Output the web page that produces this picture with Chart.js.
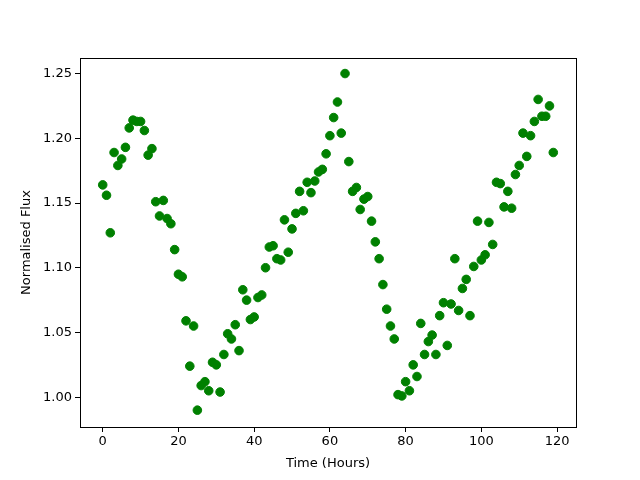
<!DOCTYPE html>
<html>
<head>
<meta charset="utf-8">
<script src="https://cdn.jsdelivr.net/npm/chart.js@4.4.0/dist/chart.umd.min.js"></script>
<style>
  html, body { margin: 0; padding: 0; background: #fff; }
</style>
</head>
<body>
<canvas id="myChart" width="640" height="480"></canvas>
<script>
// hours since start, one reading per hour
const hours = [];
for (let h = 0; h < 120; h++) hours.push(h);

const flux = [
  1.164, 1.156, 1.127, 1.189, 1.179, 1.184, 1.193, 1.208, 1.214, 1.213,
  1.213, 1.206, 1.187, 1.192, 1.151, 1.140, 1.152, 1.138, 1.134, 1.114,
  1.095, 1.093, 1.059, 1.024, 1.055, 0.990, 1.009, 1.012, 1.005, 1.027,
  1.025, 1.004, 1.033, 1.049, 1.045, 1.056, 1.036, 1.083, 1.075, 1.060,
  1.062, 1.077, 1.079, 1.100, 1.116, 1.117, 1.107, 1.106, 1.137, 1.112,
  1.130, 1.142, 1.159, 1.144, 1.166, 1.158, 1.167, 1.174, 1.176, 1.188,
  1.202, 1.216, 1.228, 1.204, 1.250, 1.182, 1.159, 1.162, 1.145, 1.153,
  1.155, 1.136, 1.120, 1.107, 1.087, 1.068, 1.055, 1.045, 1.002, 1.001,
  1.012, 1.005, 1.025, 1.016, 1.057, 1.033, 1.043, 1.048, 1.033, 1.063,
  1.073, 1.040, 1.072, 1.107, 1.067, 1.084, 1.091, 1.063, 1.101, 1.136,
  1.106, 1.110, 1.135, 1.118, 1.166, 1.165, 1.147, 1.159, 1.146, 1.172,
  1.179, 1.204, 1.186, 1.202, 1.213, 1.230, 1.217, 1.217, 1.225, 1.189
];

const xTicks = [0, 20, 40, 60, 80, 100, 120];
const yTicks = [1.00, 1.05, 1.10, 1.15, 1.20, 1.25];

const points = hours.map((h, i) => ({ x: h, y: flux[i] }));

// draw the full black frame round the plot area
const frame = {
  id: 'frame',
  afterDraw(chart) {
    const a = chart.chartArea;
    const ctx = chart.ctx;
    ctx.save();
    ctx.strokeStyle = '#000';
    ctx.lineWidth = 1;
    ctx.strokeRect(Math.round(a.left) + 0.5, Math.round(a.top) + 0.5,
      Math.round(a.right - a.left), Math.round(a.bottom - a.top));
    ctx.restore();
  }
};

const font = { family: 'DejaVu Sans', size: 13 };

new Chart(document.getElementById('myChart').getContext('2d'), {
  type: 'scatter',
  data: {
    datasets: [{
      data: points,
      backgroundColor: '#008000',
      borderColor: '#008000',
      pointRadius: 4.3,
      pointHoverRadius: 4.3
    }]
  },
  options: {
    responsive: false,
    animation: false,
    layout: { padding: { top: 58, right: 64, left: 0, bottom: 0 } },
    plugins: {
      legend: { display: false },
      tooltip: { enabled: false }
    },
    scales: {
      x: {
        type: 'linear',
        min: -6,
        max: 125,
        afterBuildTicks: (s) => { s.ticks = xTicks.map(v => ({ value: v })); },
        afterFit: (s) => { s.height = 53; },
        grid: { drawOnChartArea: false, tickLength: 5, tickColor: '#000' },
        border: { color: '#000' },
        ticks: { color: '#000', font: font, padding: 2, maxRotation: 0 },
        title: { display: true, text: 'Time (Hours)', color: '#000', font: font, padding: { top: 2, bottom: 9 } }
      },
      y: {
        type: 'linear',
        min: 0.977,
        max: 1.262,
        afterBuildTicks: (s) => { s.ticks = yTicks.map(v => ({ value: v })); },
        afterFit: (s) => { s.width = 80; },
        grid: { drawOnChartArea: false, tickLength: 5, tickColor: '#000' },
        border: { color: '#000' },
        ticks: { color: '#000', font: font, padding: 3, callback: (v) => v.toFixed(2) },
        title: { display: true, text: 'Normalised Flux', color: '#000', font: font, padding: { top: 19, bottom: 0 } }
      }
    }
  },
  plugins: [frame]
});
</script>
</body>
</html>
